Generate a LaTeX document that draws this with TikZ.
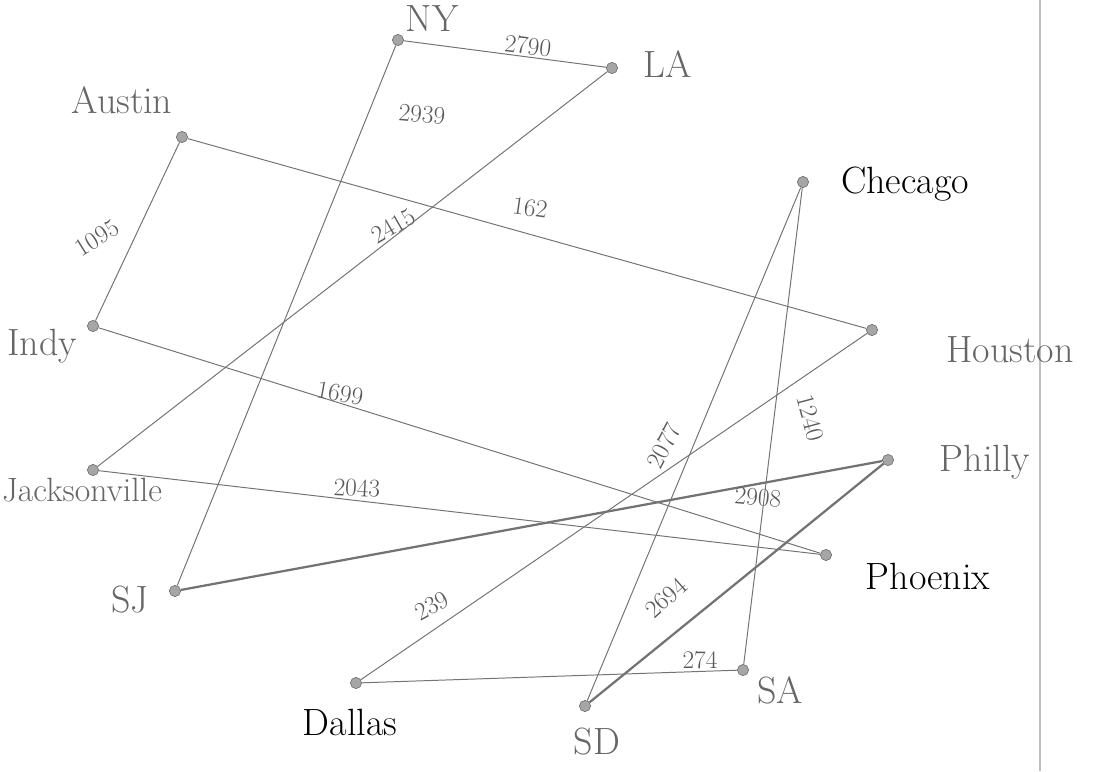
\documentclass[tikz,border=0pt]{standalone}
\begin{document}
\begin{tikzpicture}[x=0.025cm, y=-0.025cm]
  \tikzstyle{city} = [circle, draw=black!60, fill=black!35, inner sep=0pt, minimum size=8pt]
  \tikzstyle{cityname} = [text=black!60, font=\fontsize{27}{30}\selectfont]
  \tikzstyle{darkcityname} = [cityname, text=black]
  \tikzstyle{dist} = [text=black!65, font=\fontsize{18}{20}\selectfont, inner sep=1pt]
  \tikzstyle{road} = [draw=black!55, line width=0.7pt]
  \tikzstyle{bigroad} = [draw=black!55, line width=1.6pt]

  \useasboundingbox (0,0) rectangle (1110,771);
  % page edge
  \draw [black!25, line width=0.8pt] (1040,0) -- (1040,771);

  % Cities
  \node [city] (ny) at (398,40) {};
  \node [city] (la) at (612,68) {};
  \node [city] (austin) at (182,137) {};
  \node [city] (chicago) at (803,182) {};
  \node [city] (indy) at (93,326) {};
  \node [city] (houston) at (872,330) {};
  \node [city] (jax) at (93,470) {};
  \node [city] (philly) at (888,460) {};
  \node [city] (phoenix) at (826,555) {};
  \node [city] (sj) at (175,591) {};
  \node [city] (dallas) at (356,683) {};
  \node [city] (sd) at (585,706) {};
  \node [city] (sa) at (743,670) {};

  % City names
  \node [cityname] (nyname) at (432,19) {NY};
  \node [cityname] (laname) at (668,64) {LA};
  \node [cityname] (austinname) at (122,100) {Austin};
  \node [darkcityname] (chicagoname) at (905,184) {Checago};
  \node [cityname] (indyname) at (42,346) {Indy};
  \node [cityname, font=\fontsize{24}{28}\selectfont] (jaxname) at (82,490) {Jacksonville};
  \node [cityname] (houstonname) at (1010,350) {Houston};
  \node [cityname] (phillyname) at (985,462) {Philly};
  \node [darkcityname] (phoenixname) at (928,576) {Phoenix};
  \node [cityname] (sjname) at (130,600) {SJ};
  \node [darkcityname] (dallasname) at (350,722) {Dallas};
  \node [cityname] (sdname) at (597,742) {SD};
  \node [cityname] (saname) at (780,690) {SA};

  % Roads
  \draw [road] (ny) -- (la);
  \draw [road] (ny) -- (sj);
  \draw [road] (la) -- (jax);
  \draw [road] (austin) -- (indy);
  \draw [road] (austin) -- (houston);
  \draw [road] (indy) -- (phoenix);
  \draw [road] (jax) -- (phoenix);
  \draw [bigroad] (sj) -- (philly);
  \draw [road] (chicago) -- (sd);
  \draw [road] (chicago) -- (sa);
  \draw [road] (houston) -- (dallas);
  \draw [bigroad] (philly) -- (sd);
  \draw [road] (dallas) -- (sa);

  % Distances
  \node [dist, rotate=-7] (d2790) at (528,46) {2790};
  \node [dist, rotate=-5] (d2939) at (422,114) {2939};
  \node [dist, rotate=30] (d2415) at (393,226) {2415};
  \node [dist, rotate=-8] (d162) at (530,208) {162};
  \node [dist, rotate=32] (d1095) at (97,238) {1095};
  \node [dist, rotate=-10] (d1699) at (340,393) {1699};
  \node [dist, rotate=-3] (d2043) at (357,488) {2043};
  \node [dist, rotate=62] (d2077) at (664,446) {2077};
  \node [dist, rotate=-75] (d1240) at (810,418) {1240};
  \node [dist, rotate=-5] (d2908) at (758,497) {2908};
  \node [dist, rotate=28] (d239) at (432,606) {239};
  \node [dist, rotate=42] (d2694) at (666,598) {2694};
  \node [dist] (d274) at (700,660) {274};

\end{tikzpicture}
\end{document}
